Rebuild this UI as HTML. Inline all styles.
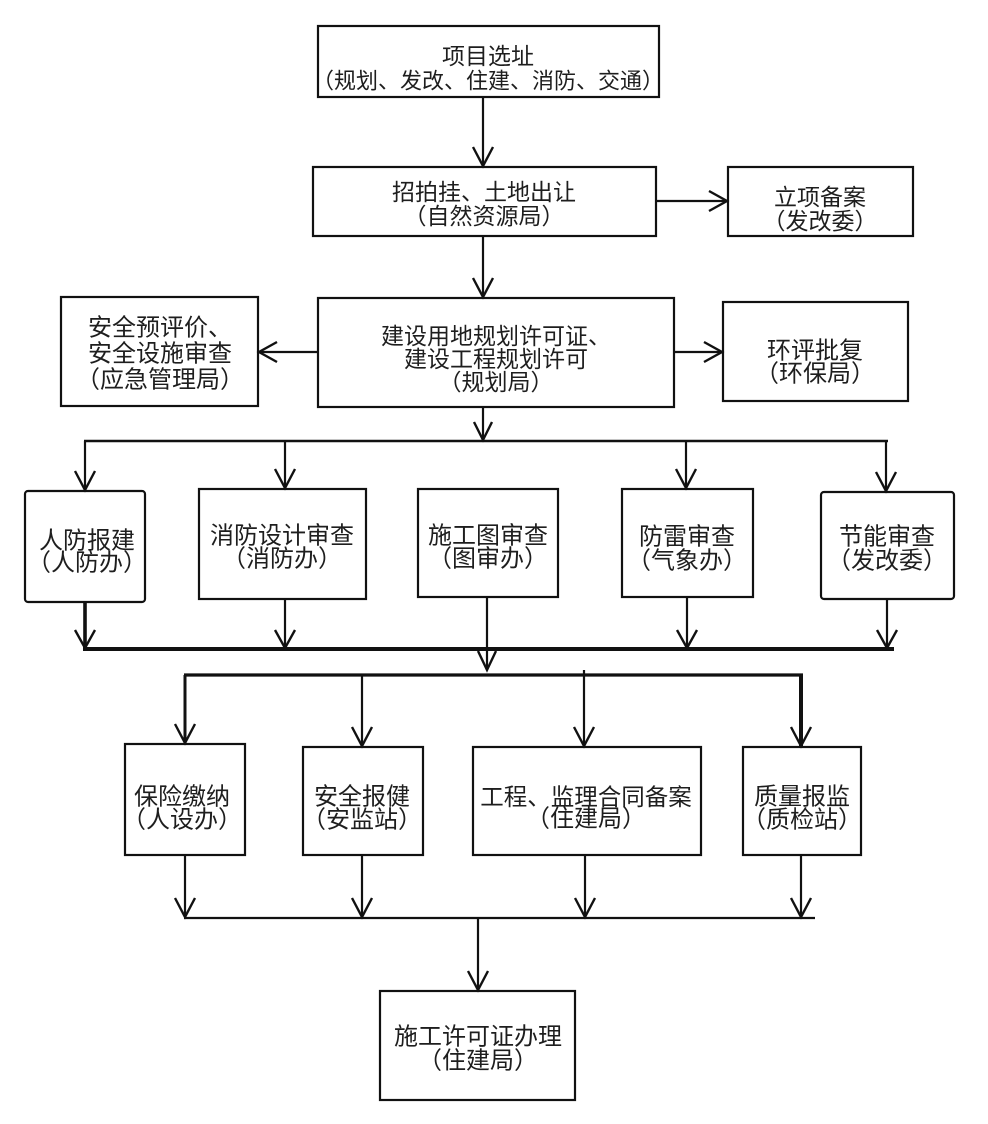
<!DOCTYPE html>
<html>
<head>
<meta charset="utf-8">
<style>
  html, body { margin: 0; padding: 0; background: #ffffff; }
  svg { display: block; }
  text {
    font-family: "Liberation Sans", "Noto Sans CJK SC", "WenQuanYi Zen Hei", sans-serif;
    fill: #1e1e1e;
    text-anchor: middle;
    dominant-baseline: central;
  }
  .box { fill: #ffffff; stroke: #111; stroke-width: 2.2; }
  .ln { stroke: #111; stroke-width: 2.2; fill: none; }
  .ah { stroke: #111; stroke-width: 2.4; fill: none; stroke-linejoin: miter; }
</style>
</head>
<body>
<svg width="988" height="1124" viewBox="0 0 988 1124" xmlns="http://www.w3.org/2000/svg">
  <rect x="0" y="0" width="988" height="1124" fill="#ffffff"/>

  <!-- Boxes -->
  <rect class="box" x="318" y="26" width="341" height="71"/>
  <rect class="box" x="313" y="167" width="343" height="69"/>
  <rect class="box" x="728" y="167" width="185" height="69"/>
  <rect class="box" x="318" y="298" width="356" height="109"/>
  <rect class="box" x="61" y="297" width="197" height="109"/>
  <rect class="box" x="723" y="302" width="185" height="99"/>
  <rect class="box" x="25" y="491" width="120" height="111" rx="3"/>
  <rect class="box" x="199" y="489" width="167" height="110"/>
  <rect class="box" x="418" y="489" width="140" height="108"/>
  <rect class="box" x="622" y="489" width="131" height="108"/>
  <rect class="box" x="821" y="492" width="133" height="107" rx="3"/>
  <rect class="box" x="125" y="744" width="120" height="111"/>
  <rect class="box" x="303" y="747" width="120" height="108"/>
  <rect class="box" x="473" y="747" width="228" height="108"/>
  <rect class="box" x="743" y="747" width="118" height="108"/>
  <rect class="box" x="380" y="991" width="195" height="109"/>

  <!-- arrow 1 -> 2 -->
  <line class="ln" x1="483" y1="97" x2="483" y2="166"/>
  <path class="ah" d="M473,147 L483,166 L493,147"/>

  <!-- arrow 2 -> 立项 -->
  <line class="ln" x1="656" y1="201" x2="727" y2="201"/>
  <path class="ah" d="M709,191 L727,201 L709,211"/>

  <!-- arrow 2 -> 3 -->
  <line class="ln" x1="483" y1="236" x2="483" y2="297"/>
  <path class="ah" d="M473,278 L483,297 L493,278"/>

  <!-- left arrow -->
  <line class="ln" x1="318" y1="352" x2="259" y2="352"/>
  <path class="ah" d="M277,342 L259,352 L277,362"/>

  <!-- right arrow -->
  <line class="ln" x1="674" y1="352" x2="722" y2="352"/>
  <path class="ah" d="M704,342 L722,352 L704,362"/>

  <!-- arrow 3 -> bus -->
  <line class="ln" x1="483" y1="407" x2="483" y2="440"/>
  <path class="ah" d="M474,422 L483,440 L492,422"/>

  <!-- bus 1 -->
  <line x1="84" y1="441" x2="888" y2="441" stroke="#111" stroke-width="2.6"/>

  <!-- down arrows to row 2 -->
  <line class="ln" x1="85" y1="441" x2="85" y2="490"/>
  <path class="ah" d="M75,471 L85,490 L95,471"/>
  <line class="ln" x1="285" y1="441" x2="285" y2="488"/>
  <path class="ah" d="M275,469 L285,488 L295,469"/>
  <line class="ln" x1="686" y1="441" x2="686" y2="488"/>
  <path class="ah" d="M676,469 L686,488 L696,469"/>
  <line class="ln" x1="886" y1="441" x2="886" y2="491"/>
  <path class="ah" d="M876,472 L886,491 L896,472"/>

  <!-- down arrows from row 2 -->
  <line x1="85" y1="602" x2="85" y2="649" stroke="#111" stroke-width="3.6"/>
  <path class="ah" d="M75,630 L85,648 L95,630" stroke-width="3"/>
  <line class="ln" x1="285" y1="599" x2="285" y2="648"/>
  <path class="ah" d="M275,630 L285,648 L295,630"/>
  <line class="ln" x1="487" y1="597" x2="487" y2="670"/>
  <path class="ah" d="M478,651 L487,670 L496,651"/>
  <line class="ln" x1="687" y1="597" x2="687" y2="648"/>
  <path class="ah" d="M677,630 L687,648 L697,630"/>
  <line class="ln" x1="887" y1="599" x2="887" y2="648"/>
  <path class="ah" d="M877,630 L887,648 L897,630"/>

  <!-- bus 2 (thick) -->
  <line x1="83" y1="649" x2="894" y2="649" stroke="#111" stroke-width="4"/>

  <!-- bus 3 -->
  <line x1="184" y1="675" x2="803" y2="675" stroke="#111" stroke-width="3.2"/>
  <line x1="185" y1="675" x2="185" y2="743" stroke="#111" stroke-width="3"/>
  <path class="ah" d="M175,724 L185,743 L195,724"/>
  <line class="ln" x1="362" y1="675" x2="362" y2="746"/>
  <path class="ah" d="M352,727 L362,746 L372,727"/>
  <line class="ln" x1="584" y1="670" x2="584" y2="746"/>
  <path class="ah" d="M574,727 L584,746 L594,727"/>
  <line x1="801" y1="675" x2="801" y2="746" stroke="#111" stroke-width="4"/>
  <path class="ah" d="M791,727 L801,746 L811,727" stroke-width="3.4"/>

  <!-- down arrows from row 3 -->
  <line class="ln" x1="185" y1="855" x2="185" y2="917"/>
  <path class="ah" d="M175,898 L185,917 L195,898"/>
  <line class="ln" x1="362" y1="855" x2="362" y2="917"/>
  <path class="ah" d="M352,898 L362,917 L372,898"/>
  <line class="ln" x1="585" y1="855" x2="585" y2="917"/>
  <path class="ah" d="M575,898 L585,917 L595,898"/>
  <line class="ln" x1="801" y1="855" x2="801" y2="917"/>
  <path class="ah" d="M791,898 L801,917 L811,898"/>

  <!-- bus 4 -->
  <line x1="184" y1="918" x2="815" y2="918" stroke="#111" stroke-width="2.2"/>

  <!-- final arrow -->
  <line class="ln" x1="478" y1="918" x2="478" y2="990"/>
  <path class="ah" d="M468,971 L478,990 L488,971"/>

  <!-- Texts (shifted slightly down) -->
  <g transform="translate(0,4)">
    <text x="488" y="52" font-size="23">项目选址</text>
    <text x="488" y="77" font-size="22">（规划、发改、住建、消防、交通）</text>

    <text x="484" y="188" font-size="23">招拍挂、土地出让</text>
    <text x="484" y="212" font-size="23">（自然资源局）</text>

    <text x="820" y="193" font-size="23">立项备案</text>
    <text x="820" y="217" font-size="23">（发改委）</text>

    <text x="496" y="332" font-size="23">建设用地规划许可证、</text>
    <text x="496" y="355" font-size="23">建设工程规划许可</text>
    <text x="496" y="378" font-size="23">（规划局）</text>

    <text x="160" y="324" font-size="24">安全预评价、</text>
    <text x="160" y="350" font-size="24">安全设施审查</text>
    <text x="160" y="376" font-size="24">（应急管理局）</text>

    <text x="815" y="347" font-size="24">环评批复</text>
    <text x="815" y="370" font-size="24">（环保局）</text>

    <text x="87" y="537" font-size="24">人防报建</text>
    <text x="87" y="559" font-size="24">（人防办）</text>

    <text x="282" y="532" font-size="24">消防设计审查</text>
    <text x="282" y="555" font-size="24">（消防办）</text>

    <text x="488" y="532" font-size="24">施工图审查</text>
    <text x="488" y="555" font-size="24">（图审办）</text>

    <text x="687" y="533" font-size="24">防雷审查</text>
    <text x="687" y="557" font-size="24">（气象办）</text>

    <text x="887" y="533" font-size="24">节能审查</text>
    <text x="887" y="557" font-size="24">（发改委）</text>

    <text x="182" y="793" font-size="24">保险缴纳</text>
    <text x="182" y="816" font-size="24">（人设办）</text>

    <text x="362" y="793" font-size="24">安全报健</text>
    <text x="362" y="816" font-size="24">（安监站）</text>

    <text x="586" y="793" font-size="23.5">工程、监理合同备案</text>
    <text x="586" y="815" font-size="24">（住建局）</text>

    <text x="802" y="793" font-size="24">质量报监</text>
    <text x="802" y="816" font-size="24">（质检站）</text>

    <text x="478" y="1033" font-size="24">施工许可证办理</text>
    <text x="478" y="1057" font-size="24">（住建局）</text>
  </g>
</svg>
</body>
</html>
